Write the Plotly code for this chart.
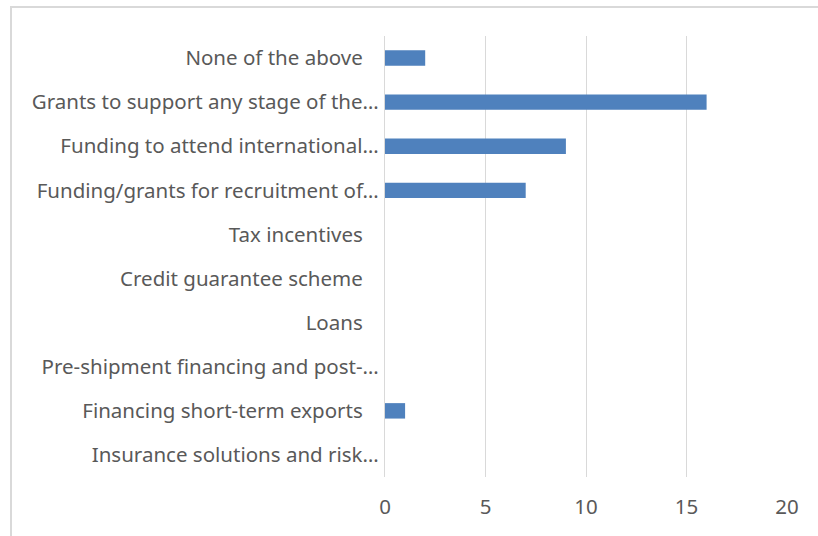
import plotly.graph_objects as go

# Support measures, listed top to bottom
categories = [
    "None of the above",
    "Grants to support any stage of the…",
    "Funding to attend international…",
    "Funding/grants for recruitment of…",
    "Tax incentives",
    "Credit guarantee scheme",
    "Loans",
    "Pre-shipment financing and post-…",
    "Financing short-term exports",
    "Insurance solutions and risk…",
]
counts = [2, 16, 9, 7, 0, 0, 0, 0, 1, 0]
x_ticks = [0, 5, 10, 15, 20]

# full labels carry a little trailing space; shortened ones end at the ellipsis
tick_text = [c if c.endswith("…") else c + "\u00a0\u00a0\u00a0" for c in categories]

W, H = 818, 536
L, R, T, B = 385, 31, 36, 59

fig = go.Figure(
    go.Bar(
        x=counts,
        y=categories,
        orientation="h",
        width=0.35,
        marker=dict(color="#4F81BD", line=dict(width=0)),
    )
)

# outer chart frame, in pixel terms converted to paper coordinates
pw, ph = W - L - R, H - T - B
def px_x(p):
    return (p - L) / pw
def px_y(p):
    return 1 - (p - T) / ph

fig.add_shape(
    type="rect", xref="paper", yref="paper",
    x0=px_x(11), x1=px_x(830), y0=px_y(7), y1=px_y(560),
    line=dict(color="#D9D9D9", width=2), fillcolor="rgba(0,0,0,0)", layer="below",
)

font_family = "Noto Sans, Open Sans, sans-serif"

fig.update_layout(
    width=W, height=H,
    margin=dict(l=L, r=R, t=T, b=B, pad=0),
    paper_bgcolor="white", plot_bgcolor="white",
    showlegend=False,
    font=dict(family=font_family, size=20.5, color="#595959"),
    xaxis=dict(
        range=[0, 20], tickvals=x_ticks, ticktext=[str(v) for v in x_ticks],
        showgrid=True, gridcolor="#D9D9D9", gridwidth=1.3,
        zeroline=False, showline=False, ticks="",
        ticklabelstandoff=15, fixedrange=True,
    ),
    yaxis=dict(
        categoryorder="array", categoryarray=categories,
        tickvals=categories, ticktext=tick_text,
        autorange="reversed", range=[9.5, -0.5],
        showgrid=False, zeroline=False,
        showline=True, linecolor="#D9D9D9", linewidth=1.3,
        ticks="", ticklabelstandoff=1,
    ),
)

fig.write_html("out.html")
